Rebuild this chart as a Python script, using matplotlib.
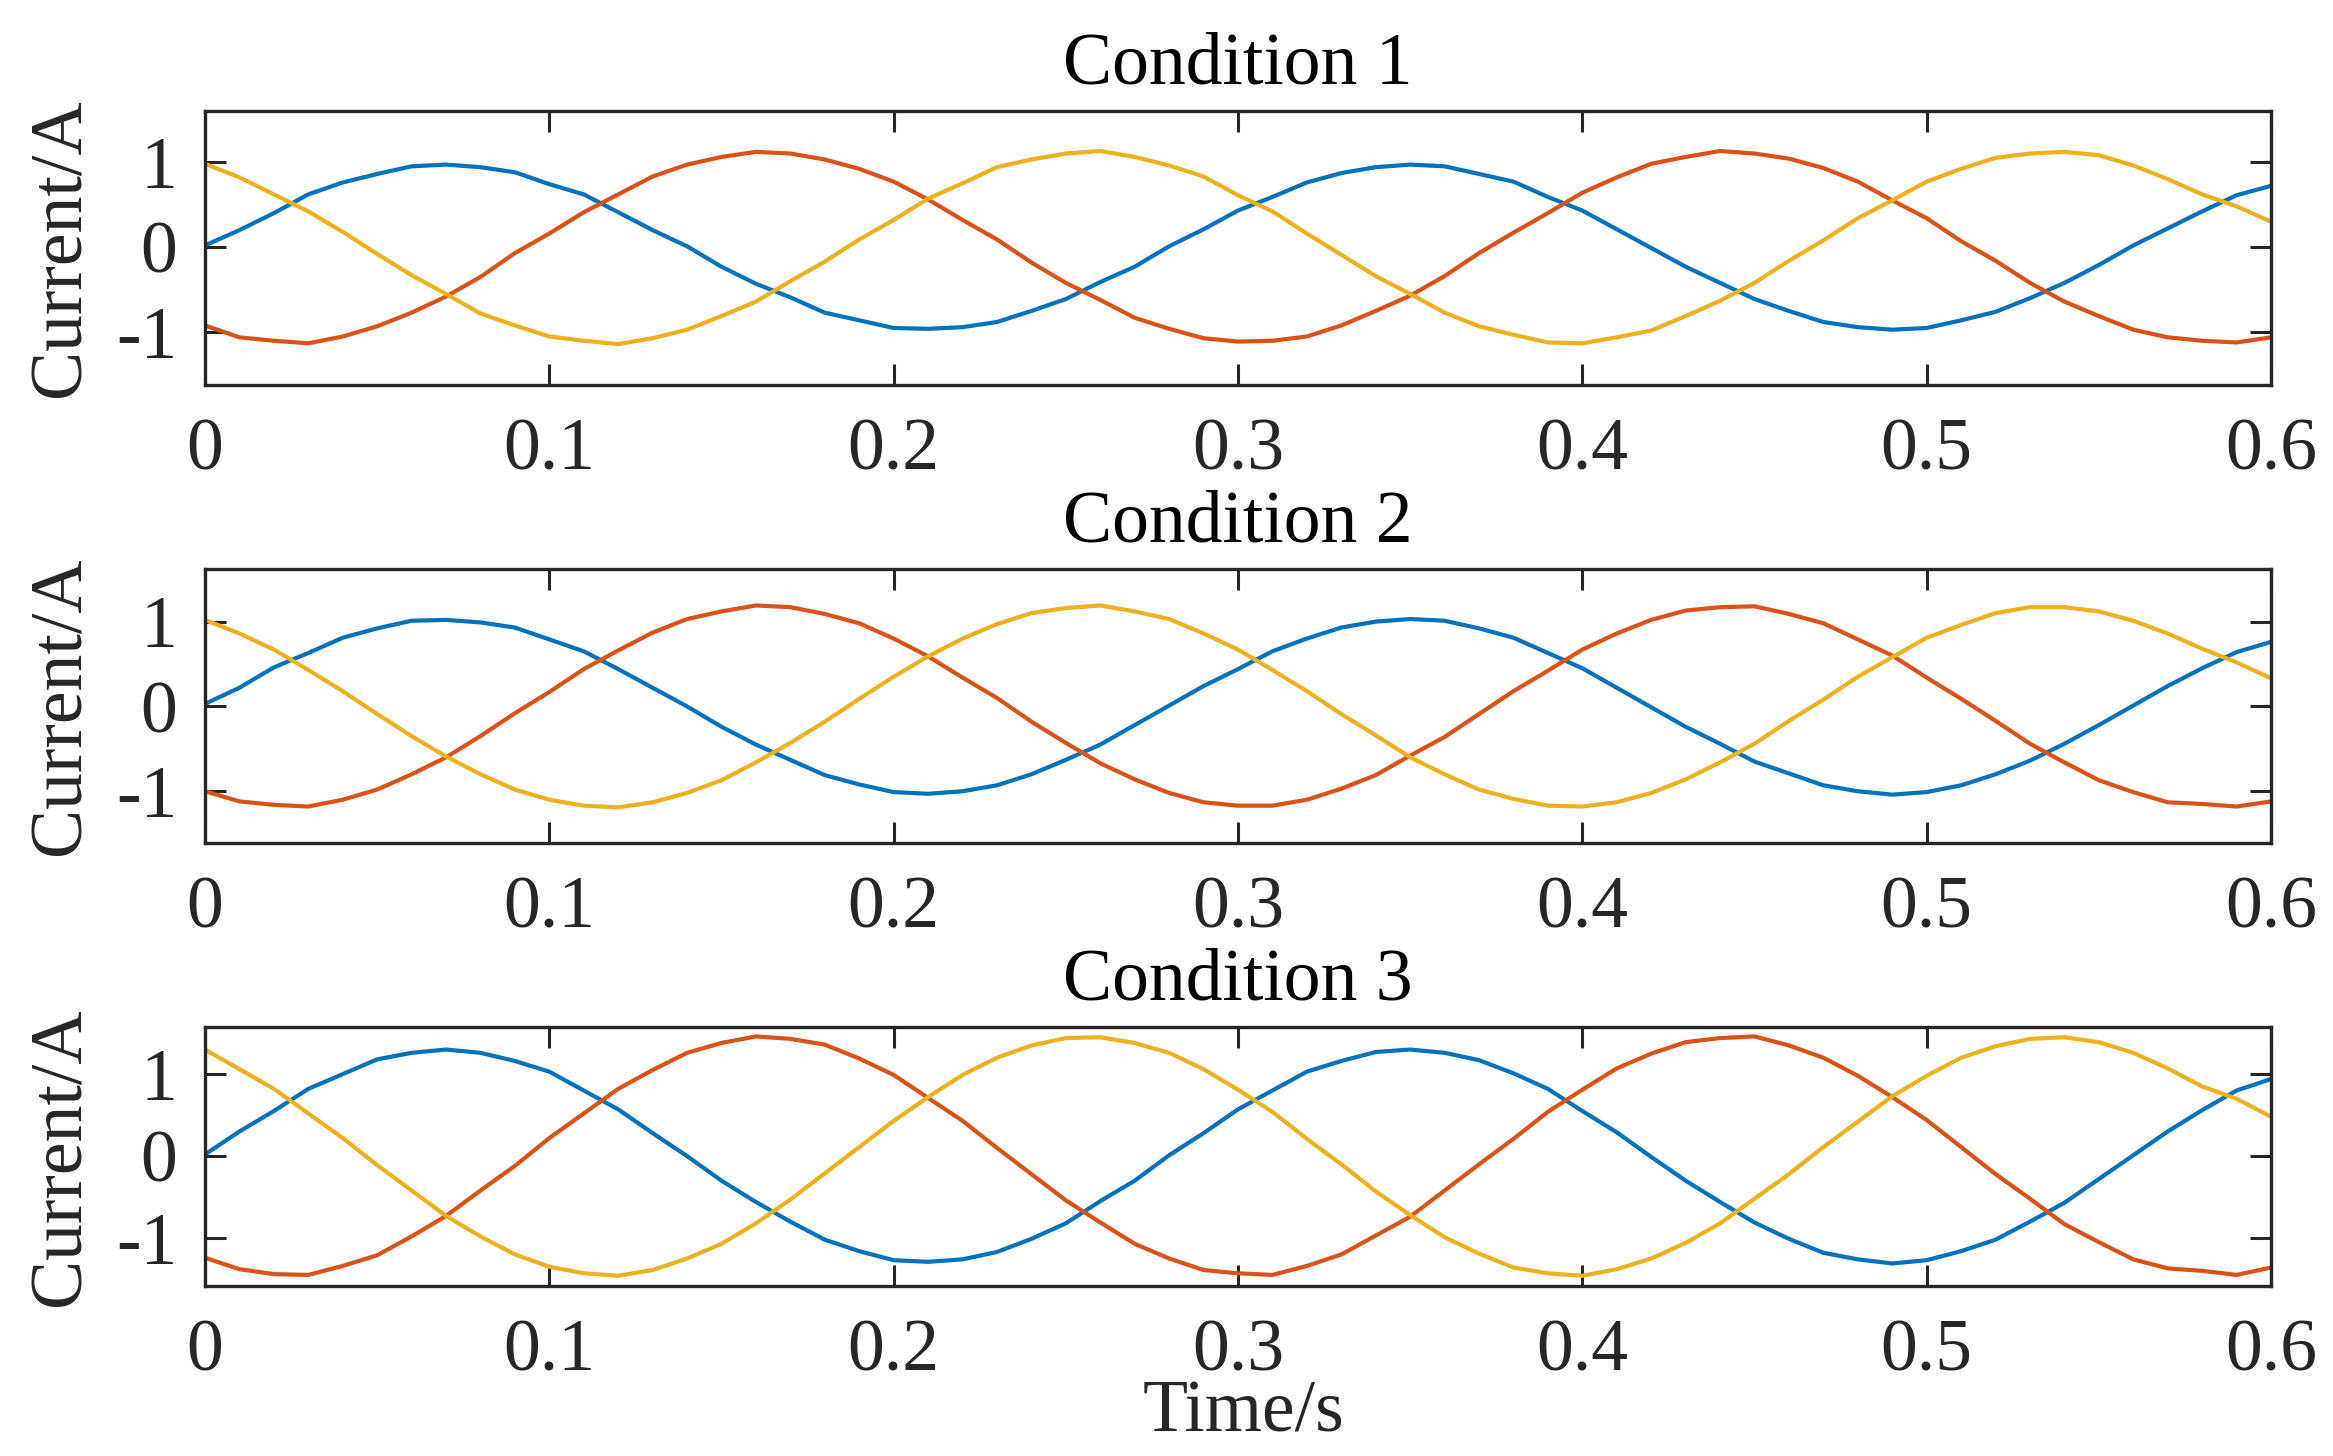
import numpy as np
import matplotlib
matplotlib.use("Agg")
import matplotlib.pyplot as plt

# time axis (s), sampled every 0.01 s
t = np.arange(61) / 100.0

# Condition 1 phase currents (A)
c1_blue = [0.02, 0.20, 0.40, 0.62, 0.76, 0.86, 0.95, 0.97, 0.94, 0.88,
           0.74, 0.62, 0.41, 0.20, 0.01, -0.23, -0.43, -0.59, -0.77, -0.86,
           -0.95, -0.96, -0.94, -0.88, -0.75, -0.61, -0.41, -0.23, 0.01, 0.21,
           0.43, 0.59, 0.76, 0.87, 0.94, 0.97, 0.95, 0.86, 0.77, 0.59,
           0.43, 0.21, -0.01, -0.23, -0.42, -0.61, -0.75, -0.88, -0.94, -0.97,
           -0.95, -0.86, -0.76, -0.60, -0.42, -0.21, 0.02, 0.22, 0.42, 0.61, 0.72]
c1_orange = [-0.92, -1.06, -1.10, -1.13, -1.05, -0.93, -0.77, -0.58, -0.35, -0.07,
             0.16, 0.41, 0.62, 0.83, 0.97, 1.06, 1.12, 1.10, 1.03, 0.92,
             0.77, 0.56, 0.32, 0.09, -0.18, -0.42, -0.62, -0.83, -0.96, -1.07,
             -1.11, -1.10, -1.05, -0.92, -0.75, -0.57, -0.34, -0.07, 0.17, 0.40,
             0.64, 0.82, 0.98, 1.06, 1.13, 1.10, 1.04, 0.93, 0.77, 0.55,
             0.34, 0.07, -0.16, -0.42, -0.64, -0.81, -0.97, -1.06, -1.10, -1.12, -1.06]
c1_yellow = [0.98, 0.82, 0.62, 0.42, 0.18, -0.08, -0.33, -0.55, -0.78, -0.92,
             -1.05, -1.10, -1.14, -1.07, -0.97, -0.81, -0.64, -0.40, -0.17, 0.09,
             0.32, 0.57, 0.75, 0.94, 1.03, 1.10, 1.13, 1.06, 0.96, 0.83,
             0.61, 0.42, 0.16, -0.09, -0.34, -0.55, -0.77, -0.93, -1.03, -1.12,
             -1.13, -1.06, -0.98, -0.81, -0.63, -0.42, -0.16, 0.08, 0.34, 0.55,
             0.77, 0.92, 1.05, 1.10, 1.12, 1.08, 0.96, 0.80, 0.62, 0.48, 0.30]

# Condition 2
c2_blue = [0.03, 0.22, 0.46, 0.63, 0.81, 0.92, 1.01, 1.02, 0.99, 0.93,
           0.79, 0.65, 0.44, 0.22, 0.00, -0.24, -0.45, -0.63, -0.81, -0.92,
           -1.01, -1.03, -1.00, -0.93, -0.80, -0.63, -0.45, -0.22, 0.01, 0.24,
           0.44, 0.65, 0.80, 0.93, 1.00, 1.03, 1.01, 0.92, 0.81, 0.63,
           0.45, 0.22, -0.01, -0.24, -0.44, -0.65, -0.79, -0.93, -1.00, -1.04,
           -1.01, -0.93, -0.80, -0.64, -0.44, -0.22, 0.01, 0.24, 0.45, 0.64, 0.76]
c2_orange = [-1.00, -1.12, -1.16, -1.18, -1.10, -0.98, -0.80, -0.60, -0.35, -0.08,
             0.17, 0.44, 0.66, 0.87, 1.03, 1.12, 1.19, 1.17, 1.09, 0.98,
             0.80, 0.59, 0.34, 0.10, -0.18, -0.43, -0.67, -0.86, -1.02, -1.13,
             -1.17, -1.17, -1.10, -0.97, -0.81, -0.58, -0.36, -0.09, 0.18, 0.42,
             0.67, 0.86, 1.02, 1.13, 1.17, 1.18, 1.09, 0.98, 0.79, 0.60,
             0.34, 0.09, -0.17, -0.44, -0.66, -0.87, -1.01, -1.13, -1.15, -1.18, -1.12]
c2_yellow = [1.02, 0.86, 0.67, 0.43, 0.18, -0.09, -0.35, -0.59, -0.80, -0.98,
             -1.10, -1.17, -1.19, -1.13, -1.02, -0.87, -0.66, -0.43, -0.18, 0.09,
             0.35, 0.59, 0.80, 0.97, 1.10, 1.16, 1.19, 1.12, 1.03, 0.86,
             0.67, 0.43, 0.18, -0.09, -0.34, -0.60, -0.80, -0.98, -1.09, -1.17,
             -1.18, -1.13, -1.02, -0.86, -0.66, -0.44, -0.17, 0.08, 0.35, 0.58,
             0.81, 0.96, 1.10, 1.17, 1.17, 1.12, 1.01, 0.86, 0.68, 0.52, 0.33]

# Condition 3
c3_blue = [0.02, 0.30, 0.55, 0.82, 1.00, 1.18, 1.26, 1.30, 1.26, 1.16,
           1.03, 0.80, 0.57, 0.28, 0.00, -0.30, -0.56, -0.80, -1.02, -1.16,
           -1.27, -1.29, -1.26, -1.17, -1.01, -0.82, -0.55, -0.30, 0.01, 0.28,
           0.57, 0.80, 1.03, 1.16, 1.27, 1.30, 1.26, 1.17, 1.01, 0.82,
           0.55, 0.29, -0.01, -0.30, -0.56, -0.81, -1.01, -1.18, -1.26, -1.31,
           -1.27, -1.16, -1.02, -0.80, -0.57, -0.28, 0.01, 0.30, 0.56, 0.80, 0.94]
c3_orange = [-1.24, -1.38, -1.44, -1.45, -1.34, -1.21, -0.98, -0.73, -0.42, -0.12,
             0.22, 0.52, 0.82, 1.05, 1.26, 1.38, 1.46, 1.43, 1.36, 1.19,
             0.99, 0.71, 0.43, 0.10, -0.22, -0.54, -0.81, -1.07, -1.25, -1.39,
             -1.43, -1.45, -1.34, -1.20, -0.97, -0.74, -0.42, -0.10, 0.21, 0.54,
             0.81, 1.07, 1.25, 1.39, 1.44, 1.46, 1.35, 1.20, 0.98, 0.72,
             0.44, 0.11, -0.22, -0.52, -0.83, -1.05, -1.26, -1.37, -1.40, -1.45, -1.36]
c3_yellow = [1.30, 1.06, 0.82, 0.52, 0.22, -0.11, -0.42, -0.73, -0.98, -1.20,
             -1.35, -1.43, -1.46, -1.39, -1.25, -1.07, -0.82, -0.53, -0.21, 0.11,
             0.43, 0.72, 0.99, 1.20, 1.35, 1.44, 1.45, 1.38, 1.26, 1.06,
             0.81, 0.54, 0.21, -0.10, -0.43, -0.72, -0.99, -1.19, -1.36, -1.43,
             -1.46, -1.38, -1.25, -1.06, -0.82, -0.52, -0.22, 0.11, 0.42, 0.73,
             0.98, 1.20, 1.34, 1.43, 1.45, 1.39, 1.26, 1.07, 0.85, 0.70, 0.48]

titles = ["Condition 1", "Condition 2", "Condition 3"]
x_ticks = [0, 0.1, 0.2, 0.3, 0.4, 0.5, 0.6]
x_tick_labels = ["0", "0.1", "0.2", "0.3", "0.4", "0.5", "0.6"]
y_ticks = [-1, 0, 1]
y_tick_labels = ["-1", "0", "1"]

panels = [(c1_blue, c1_orange, c1_yellow),
          (c2_blue, c2_orange, c2_yellow),
          (c3_blue, c3_orange, c3_yellow)]

colors = ["#0072BD", "#D95319", "#EDB120"]
ink = "#262626"
W, H = 2333, 1456
plt.rcParams["font.family"] = ["Liberation Serif", "DejaVu Serif"]
fs = 53

fig = plt.figure(figsize=(W / 100, H / 100), dpi=100)

# axes boxes in pixels: (top, bottom), plus y limits
boxes = [(111, 385), (569, 843), (1027, 1286)]
ylims = [(-1.62, 1.60), (-1.61, 1.62), (-1.585, 1.575)]
left, right = 205, 2271

for i, (series, (top, bot)) in enumerate(zip(panels, boxes)):
    ax = fig.add_axes([left / W, 1 - bot / H, (right - left) / W, (bot - top) / H])
    for y, c in zip(series, colors):
        ax.plot(t, y, color=c, lw=3.0)
    ax.set_xlim(0, 0.6)
    ax.set_ylim(*ylims[i])
    ax.set_xticks(x_ticks)
    ax.set_xticklabels(x_tick_labels)
    ax.set_yticks(y_ticks)
    ax.set_yticklabels(y_tick_labels)
    ax.tick_params(direction="in", top=True, right=True, length=15, width=2.2,
                   color=ink, labelcolor=ink, labelsize=fs)
    ax.tick_params(axis="x", pad=24)
    ax.tick_params(axis="y", pad=20)
    for s in ax.spines.values():
        s.set_linewidth(2.4)
        s.set_color(ink)
    ax.set_title(titles[i], fontsize=fs, pad=20, color="black")
    ax.set_ylabel("Current/A", fontsize=fs, color=ink)
    ax.yaxis.set_label_coords(-0.053, 0.5)

# shared x label, sits over the bottom tick labels as in the original
fig.text(1243 / W, 1 - 1431 / H, "Time/s", fontsize=fs, color=ink,
         ha="center", va="baseline")

fig.savefig("out.png", dpi=100)
